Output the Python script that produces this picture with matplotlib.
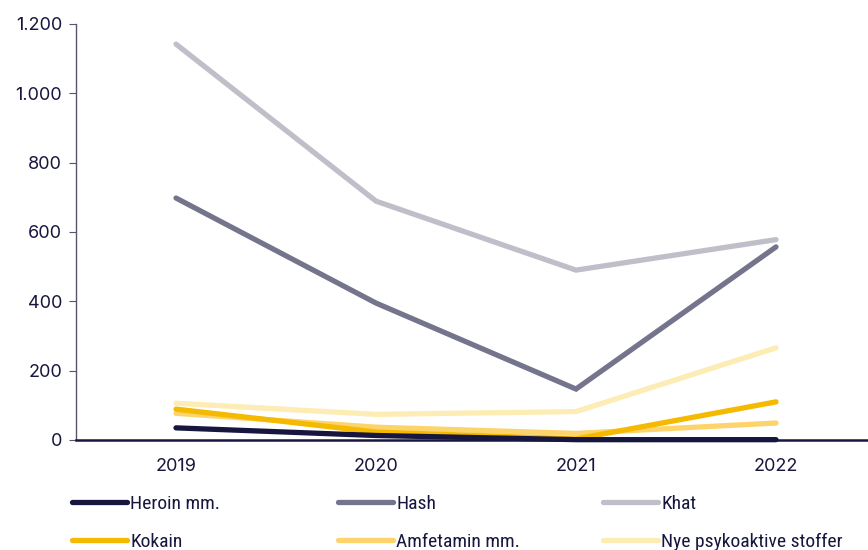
import matplotlib
matplotlib.use("Agg")
import matplotlib.pyplot as plt
from matplotlib.lines import Line2D

years = ["2019", "2020", "2021", "2022"]

heroin = [35, 13, 1, 1]
hash_ = [698, 395, 147, 557]
khat = [1142, 689, 490, 578]
kokain = [89, 23, 3, 110]
amfetamin = [77, 37, 19, 49]
nps = [106, 74, 82, 266]

names = ["Heroin mm.", "Hash", "Khat", "Kokain", "Amfetamin mm.", "Nye psykoaktive stoffer"]
colors = ["#16163f", "#74748c", "#bfbfca", "#f5b900", "#fcd46b", "#fdecb3"]
series = [heroin, hash_, khat, kokain, amfetamin, nps]

plt.rcParams["font.family"] = ["Inter", "DejaVu Sans"]
navy = "#16163f"

fig = plt.figure(figsize=(8.68, 5.5), dpi=100)
ax = fig.add_axes([76 / 868, 0.2, 1 - 76 / 868, 1 - 24 / 550 - 0.2])

x = list(range(len(years)))
# draw light ones first so dark lines end up on top like the original
order = [5, 4, 2, 3, 1, 0]
for i in order:
    ax.plot(x, series[i], color=colors[i], lw=3.8, solid_capstyle="round",
            solid_joinstyle="miter", zorder=3 + (5 - i) * 0.1, clip_on=False)

ax.set_xlim(-0.5, (868 - 176) / 200)
ax.set_ylim(0, 1200)
ax.set_yticks(range(0, 1201, 200))
ax.set_yticklabels(["0", "200", "400", "600", "800", "1.000", "1.200"])
ax.set_xticks(x)
ax.set_xticklabels(years)

for s in ["top", "right"]:
    ax.spines[s].set_visible(False)
ax.spines["left"].set_color("#55556e")
ax.spines["left"].set_linewidth(1.0)
ax.spines["bottom"].set_color(navy)
ax.spines["bottom"].set_linewidth(1.8)
ax.spines["bottom"].set_zorder(10)
ax.tick_params(axis="y", length=5, width=0.8, color="#55556e", labelcolor=navy,
               labelsize=13, pad=5)
ax.tick_params(axis="x", length=0, labelcolor=navy, labelsize=13, pad=13)

# legend: three fixed-width columns, two rows
col_x = [72, 338, 603]
for c in range(3):
    hs = []
    ls = []
    for r in range(2):
        k = r * 3 + c
        hs.append(Line2D([0], [0], color=colors[k], lw=3.8, solid_capstyle="round"))
        ls.append(names[k])
    leg = fig.legend(hs, ls, loc="upper left",
                     bbox_to_anchor=((col_x[c] - 8) / 868, 1 - 487 / 550),
                     frameon=False, fontsize=14, handlelength=2.85,
                     handletextpad=0.15, labelspacing=1.05, borderaxespad=0)
    for t in leg.get_texts():
        t.set_color(navy)
        t.set_fontfamily(["Roboto Condensed", "Roboto", "DejaVu Sans"])

fig.savefig("out.png", dpi=100)
